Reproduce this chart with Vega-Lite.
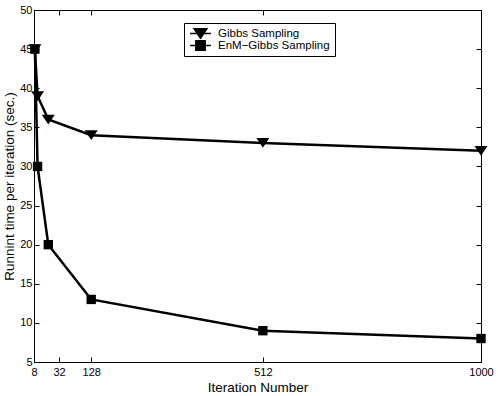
{
  "$schema": "https://vega.github.io/schema/vega-lite/v6.json",
  "width": 447,
  "height": 352,
  "autosize": {"type": "none"},
  "padding": {"left": 34, "top": 10, "right": 17, "bottom": 34},
  "background": "white",
  "config": {
    "view": {"stroke": "black", "strokeWidth": 1},
    "font": "Liberation Sans",
    "axis": {
      "grid": false,
      "domainColor": "black",
      "domainWidth": 1,
      "tickColor": "black",
      "tickWidth": 1,
      "tickSize": -5,
      "labelColor": "black",
      "labelFontSize": 11,
      "labelFont": "Liberation Sans",
      "titleFont": "Liberation Sans",
      "titleFontSize": 13.5,
      "titleFontWeight": "normal",
      "titleColor": "black"
    }
  },
  "data": {
    "values": [
      {"iter": 2, "time": 45, "method": "Gibbs Sampling"},
      {"iter": 8, "time": 39, "method": "Gibbs Sampling"},
      {"iter": 32, "time": 36, "method": "Gibbs Sampling"},
      {"iter": 128, "time": 34, "method": "Gibbs Sampling"},
      {"iter": 512, "time": 33, "method": "Gibbs Sampling"},
      {"iter": 1000, "time": 32, "method": "Gibbs Sampling"},
      {"iter": 2, "time": 45, "method": "EnM−Gibbs Sampling"},
      {"iter": 8, "time": 30, "method": "EnM−Gibbs Sampling"},
      {"iter": 32, "time": 20, "method": "EnM−Gibbs Sampling"},
      {"iter": 128, "time": 13, "method": "EnM−Gibbs Sampling"},
      {"iter": 512, "time": 9, "method": "EnM−Gibbs Sampling"},
      {"iter": 1000, "time": 8, "method": "EnM−Gibbs Sampling"}
    ]
  },
  "layer": [
    {
      "mark": {"type": "line", "color": "black", "strokeWidth": 2.5},
      "encoding": {
        "x": {
          "field": "iter", "type": "quantitative",
          "scale": {"domain": [0, 1000], "nice": false, "zero": false},
          "axis": {
            "orient": "bottom",
            "values": [0, 56, 128, 512, 1000],
            "format": "d",
            "labelExpr": "datum.value == 0 ? '8' : datum.value == 56 ? '32' : datum.label",
            "title": "Iteration Number",
            "labelPadding": 9,
            "titlePadding": 3,
            "labelFlush": false
          }
        },
        "y": {
          "field": "time", "type": "quantitative",
          "scale": {"domain": [5, 50], "nice": false, "zero": false},
          "axis": {
            "orient": "left",
            "values": [5, 10, 15, 20, 25, 30, 35, 40, 45, 50],
            "title": "Runnint time per iteration (sec.)",
            "labelPadding": 7,
            "titlePadding": 3
          }
        },
        "detail": {"field": "method"}
      }
    },
    {
      "encoding": {
        "x": {
          "field": "iter", "type": "quantitative",
          "scale": {"domain": [0, 1000], "nice": false, "zero": false},
          "axis": {"orient": "top", "values": [0, 56, 128, 512, 1000], "labels": false, "title": null}
        },
        "y": {
          "field": "time", "type": "quantitative",
          "scale": {"domain": [5, 50], "nice": false, "zero": false},
          "axis": {"orient": "right", "values": [5, 10, 15, 20, 25, 30, 35, 40, 45, 50], "labels": false, "title": null}
        }
      },
      "layer": [
        {
          "transform": [{"filter": "datum.method == 'Gibbs Sampling'"}],
          "mark": {"type": "point", "filled": true, "color": "black", "opacity": 1, "size": 169, "strokeWidth": 0, "shape": "M-1,-0.75H1L0,0.75Z"}
        },
        {
          "transform": [{"filter": "datum.method != 'Gibbs Sampling'"}],
          "mark": {"type": "point", "filled": true, "color": "black", "opacity": 1, "size": 169, "strokeWidth": 0, "shape": "M-0.72,-0.72H0.72V0.72H-0.72Z"}
        },
        {
          "transform": [{"filter": "datum.iter < 0"}],
          "mark": {"type": "point", "filled": false, "fill": "black", "fillOpacity": 1, "stroke": "black", "strokeOpacity": 1, "opacity": 1, "size": 169, "strokeWidth": 2.5},
          "encoding": {
            "shape": {
              "field": "method", "type": "nominal",
              "scale": {
                "domain": ["Gibbs Sampling", "EnM−Gibbs Sampling"],
                "range": ["M-1.6,0H1.6M-1,-0.75H1L0,0.75Z", "M-1.6,0H1.6M-0.72,-0.72H0.72V0.72H-0.72Z"]
              },
              "legend": {
                "orient": "none",
                "legendX": 150,
                "legendY": 13,
                "title": null,
                "strokeColor": "black",
                "fillColor": "white",
                "padding": 5,
                "rowPadding": 0,
                "clipHeight": 11,
                "symbolSize": 169,
                "symbolOffset": 4,
                "labelFontSize": 11.5,
                "labelFont": "Liberation Sans",
                "labelColor": "black",
                "labelOffset": 10,
                "cornerRadius": 0
              }
            }
          }
        }
      ]
    }
  ],
  "resolve": {"axis": {"x": "independent", "y": "independent"}}
}
